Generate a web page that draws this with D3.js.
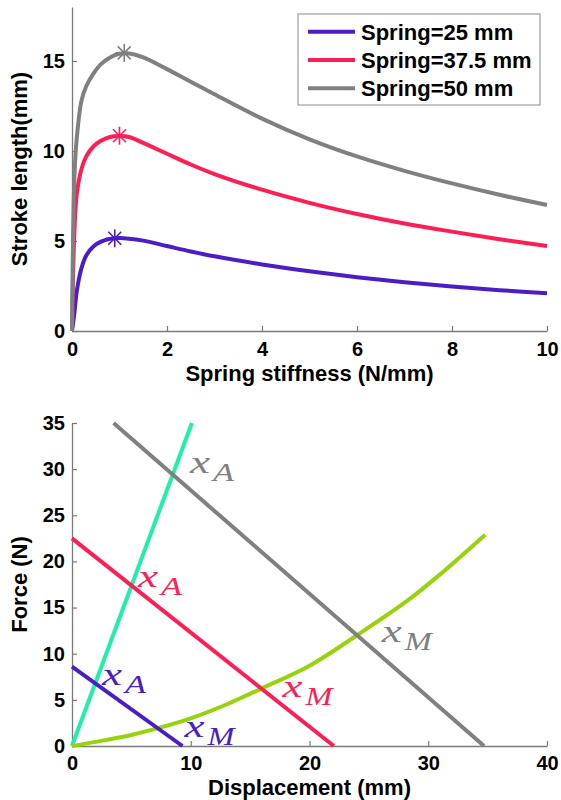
<!DOCTYPE html>
<html>
<head>
<meta charset="utf-8">
<script src="https://cdn.jsdelivr.net/npm/d3@7"></script>
<style>
  body { margin: 0; background: #fff; }
  .axis text { font-family: 'Liberation Sans', Arial, sans-serif; font-weight: bold; font-size: 20px; fill: #000; }
  .label { font-family: 'Liberation Sans', Arial, sans-serif; font-weight: bold; font-size: 22px; }
  .math { font-family: 'Liberation Serif', 'DejaVu Serif', serif; font-style: italic; }
</style>
</head>
<body>
<script>
/* Stroke length vs stiffness + force/displacement chart */

// Top chart data: stroke length (mm) vs spring stiffness (N/mm)
const stiffness = [0, 0.05, 0.1, 0.2, 0.3, 0.45, 0.6, 0.8, 1.0, 1.2, 1.5, 2, 2.5, 3, 4, 5, 6, 7, 8, 9, 10];
const stroke25 = [0, 1.0, 2.2, 3.5, 4.2, 4.7, 4.95, 5.12, 5.16, 5.13, 5.02, 4.72, 4.42, 4.15, 3.7, 3.32, 2.99, 2.71, 2.47, 2.27, 2.1];
const stroke375 = [0, 5.5, 7.6, 9.0, 9.7, 10.25, 10.55, 10.78, 10.83, 10.78, 10.45, 9.85, 9.25, 8.72, 7.85, 7.12, 6.5, 5.97, 5.52, 5.1, 4.72];
const stroke50 = [0, 8.5, 10.7, 12.8, 13.6, 14.3, 14.8, 15.2, 15.4, 15.42, 15.2, 14.55, 13.85, 13.15, 11.8, 10.65, 9.7, 8.9, 8.2, 7.57, 7.0];
const peakStiffness = [0.9, 1.0, 1.1];
const peakStroke = [5.15, 10.85, 15.45];
const springNames = ['Spring=25 mm', 'Spring=37.5 mm', 'Spring=50 mm'];

// Bottom chart data: force (N) vs displacement (mm)
const wireDisp = [0, 10.1];
const wireForce = [0, 35];
const bias25Disp = [0, 9.3];
const bias25Force = [8.6, 0];
const bias375Disp = [0, 22.05];
const bias375Force = [22.5, 0];
const bias50Disp = [3.5, 34.7];
const bias50Force = [35, 0];
const curveDisp = [0, 2, 5, 7, 10, 13, 16, 20, 24, 28.3, 31, 34.8];
const curveForce = [0, 0.45, 1.2, 1.85, 3.0, 4.5, 6.25, 8.7, 12.0, 15.8, 18.6, 22.9];

// Annotations (x_A / x_M) in data units
const markSub = ['A', 'A', 'A', 'M', 'M', 'M'];
const markSeries = [2, 1, 0, 0, 1, 2];
const markDisp = [9.94, 5.56, 2.53, 9.47, 17.73, 26.08];
const markForce = [29.58, 17.23, 6.61, 0.98, 5.31, 11.3];

const colors = ['#4a1ec4', '#fb1f55', '#808080'];
const axisGray = '#7a7a7a';

const svg = d3.select('body').append('svg').attr('width', 561).attr('height', 800);

// Helper to style axes
function styleAxis(g) {
  g.attr('class', 'axis');
  g.select('.domain').attr('stroke', axisGray).attr('stroke-width', 1.3);
  g.selectAll('.tick line').attr('stroke', axisGray).attr('stroke-width', 1.2);
}

// ---------- Top chart ----------
const x1 = d3.scaleLinear().domain([0, 10]).range([72, 547]);
const y1 = d3.scaleLinear().domain([0, 18]).range([331, 7]);

svg.append('g')
  .attr('transform', `translate(0,${y1(0)})`)
  .call(d3.axisBottom(x1).tickValues([0, 2, 4, 6, 8, 10]).tickSizeInner(-5).tickSizeOuter(0).tickPadding(11))
  .call(styleAxis);

svg.append('g')
  .attr('transform', `translate(${x1(0)},0)`)
  .call(d3.axisLeft(y1).tickValues([0, 5, 10, 15]).tickSizeInner(-5).tickSizeOuter(0).tickPadding(7))
  .call(styleAxis);

const strokes = [stroke25, stroke375, stroke50];
const line1 = d3.line()
  .x((d) => x1(d[0]))
  .y((d) => y1(d[1]))
  .curve(d3.curveCatmullRom.alpha(0.5));

strokes.forEach((s, i) => {
  svg.append('path')
    .attr('d', line1(stiffness.map((k, j) => [k, s[j]])))
    .attr('fill', 'none')
    .attr('stroke', colors[i])
    .attr('stroke-width', 4);
});

// Asterisk markers at the peaks
peakStiffness.forEach((k, i) => {
  const cx = x1(k);
  const cy = y1(peakStroke[i]);
  const g = svg.append('g').attr('stroke', colors[i]).attr('stroke-width', 1.6);
  [[0, 9], [9, 0], [6.5, 6.5], [6.5, -6.5]].forEach((a) => {
    g.append('line')
      .attr('x1', cx - a[0]).attr('y1', cy - a[1])
      .attr('x2', cx + a[0]).attr('y2', cy + a[1]);
  });
});

svg.append('text')
  .attr('class', 'label')
  .attr('x', (x1(0) + x1(10)) / 2)
  .attr('y', 381)
  .attr('text-anchor', 'middle')
  .text('Spring stiffness (N/mm)');

svg.append('text')
  .attr('class', 'label')
  .attr('transform', `translate(27,${(y1(0) + y1(18)) / 2}) rotate(-90)`)
  .attr('text-anchor', 'middle')
  .text('Stroke length(mm)');

// Legend
const legend = svg.append('g');
legend.append('rect')
  .attr('x', 298).attr('y', 14)
  .attr('width', 242).attr('height', 91)
  .attr('fill', '#fff')
  .attr('stroke', '#8a8a8a')
  .attr('stroke-width', 1);

springNames.forEach((name, i) => {
  const ly = 31.7 + i * 28.3;
  legend.append('line')
    .attr('x1', 308).attr('x2', 355)
    .attr('y1', ly).attr('y2', ly)
    .attr('stroke', colors[i])
    .attr('stroke-width', 4);
  legend.append('text')
    .attr('class', 'label')
    .attr('x', 361)
    .attr('y', ly + 8)
    .text(name);
});

// ---------- Bottom chart ----------
const x2 = d3.scaleLinear().domain([0, 40]).range([72, 547]);
const y2 = d3.scaleLinear().domain([0, 35]).range([746, 423]);

svg.append('g')
  .attr('transform', `translate(0,${y2(0)})`)
  .call(d3.axisBottom(x2).tickValues([0, 10, 20, 30, 40]).tickSizeInner(-5).tickSizeOuter(0).tickPadding(10))
  .call(styleAxis);

svg.append('g')
  .attr('transform', `translate(${x2(0)},0)`)
  .call(d3.axisLeft(y2).tickValues([0, 5, 10, 15, 20, 25, 30, 35]).tickSizeInner(-5).tickSizeOuter(0).tickPadding(7))
  .call(styleAxis);

const zip = (a, b) => a.map((v, i) => [v, b[i]]);

const line2 = d3.line()
  .x((d) => x2(d[0]))
  .y((d) => y2(d[1]));

const curve2 = d3.line()
  .x((d) => x2(d[0]))
  .y((d) => y2(d[1]))
  .curve(d3.curveCatmullRom.alpha(0.5));

svg.append('path')
  .attr('d', line2(zip(wireDisp, wireForce)))
  .attr('fill', 'none')
  .attr('stroke', '#20eeab')
  .attr('stroke-width', 4);

svg.append('path')
  .attr('d', curve2(zip(curveDisp, curveForce)))
  .attr('fill', 'none')
  .attr('stroke', '#97d20c')
  .attr('stroke-width', 4);

[[bias25Disp, bias25Force], [bias375Disp, bias375Force], [bias50Disp, bias50Force]].forEach((b, i) => {
  svg.append('path')
    .attr('d', line2(zip(b[0], b[1])))
    .attr('fill', 'none')
    .attr('stroke', colors[i])
    .attr('stroke-width', 4);
});

// x_A / x_M annotations (math italic look)
markSub.forEach((sub, i) => {
  const px = x2(markDisp[i]);
  const py = y2(markForce[i]);
  svg.append('text')
    .attr('class', 'math')
    .attr('x', px).attr('y', py)
    .attr('font-size', 31)
    .attr('textLength', 20)
    .attr('lengthAdjust', 'spacingAndGlyphs')
    .attr('fill', colors[markSeries[i]])
    .text('x');
  svg.append('text')
    .attr('class', 'math')
    .attr('x', px + 23).attr('y', py + 8)
    .attr('font-size', 25)
    .attr('textLength', sub === 'M' ? 27 : 21)
    .attr('lengthAdjust', 'spacingAndGlyphs')
    .attr('fill', colors[markSeries[i]])
    .text(sub);
});

svg.append('text')
  .attr('class', 'label')
  .attr('x', (x2(0) + x2(40)) / 2)
  .attr('y', 795)
  .attr('text-anchor', 'middle')
  .text('Displacement (mm)');

svg.append('text')
  .attr('class', 'label')
  .attr('transform', `translate(27,${(y2(0) + y2(35)) / 2}) rotate(-90)`)
  .attr('text-anchor', 'middle')
  .text('Force (N)');
</script>
</body>
</html>
